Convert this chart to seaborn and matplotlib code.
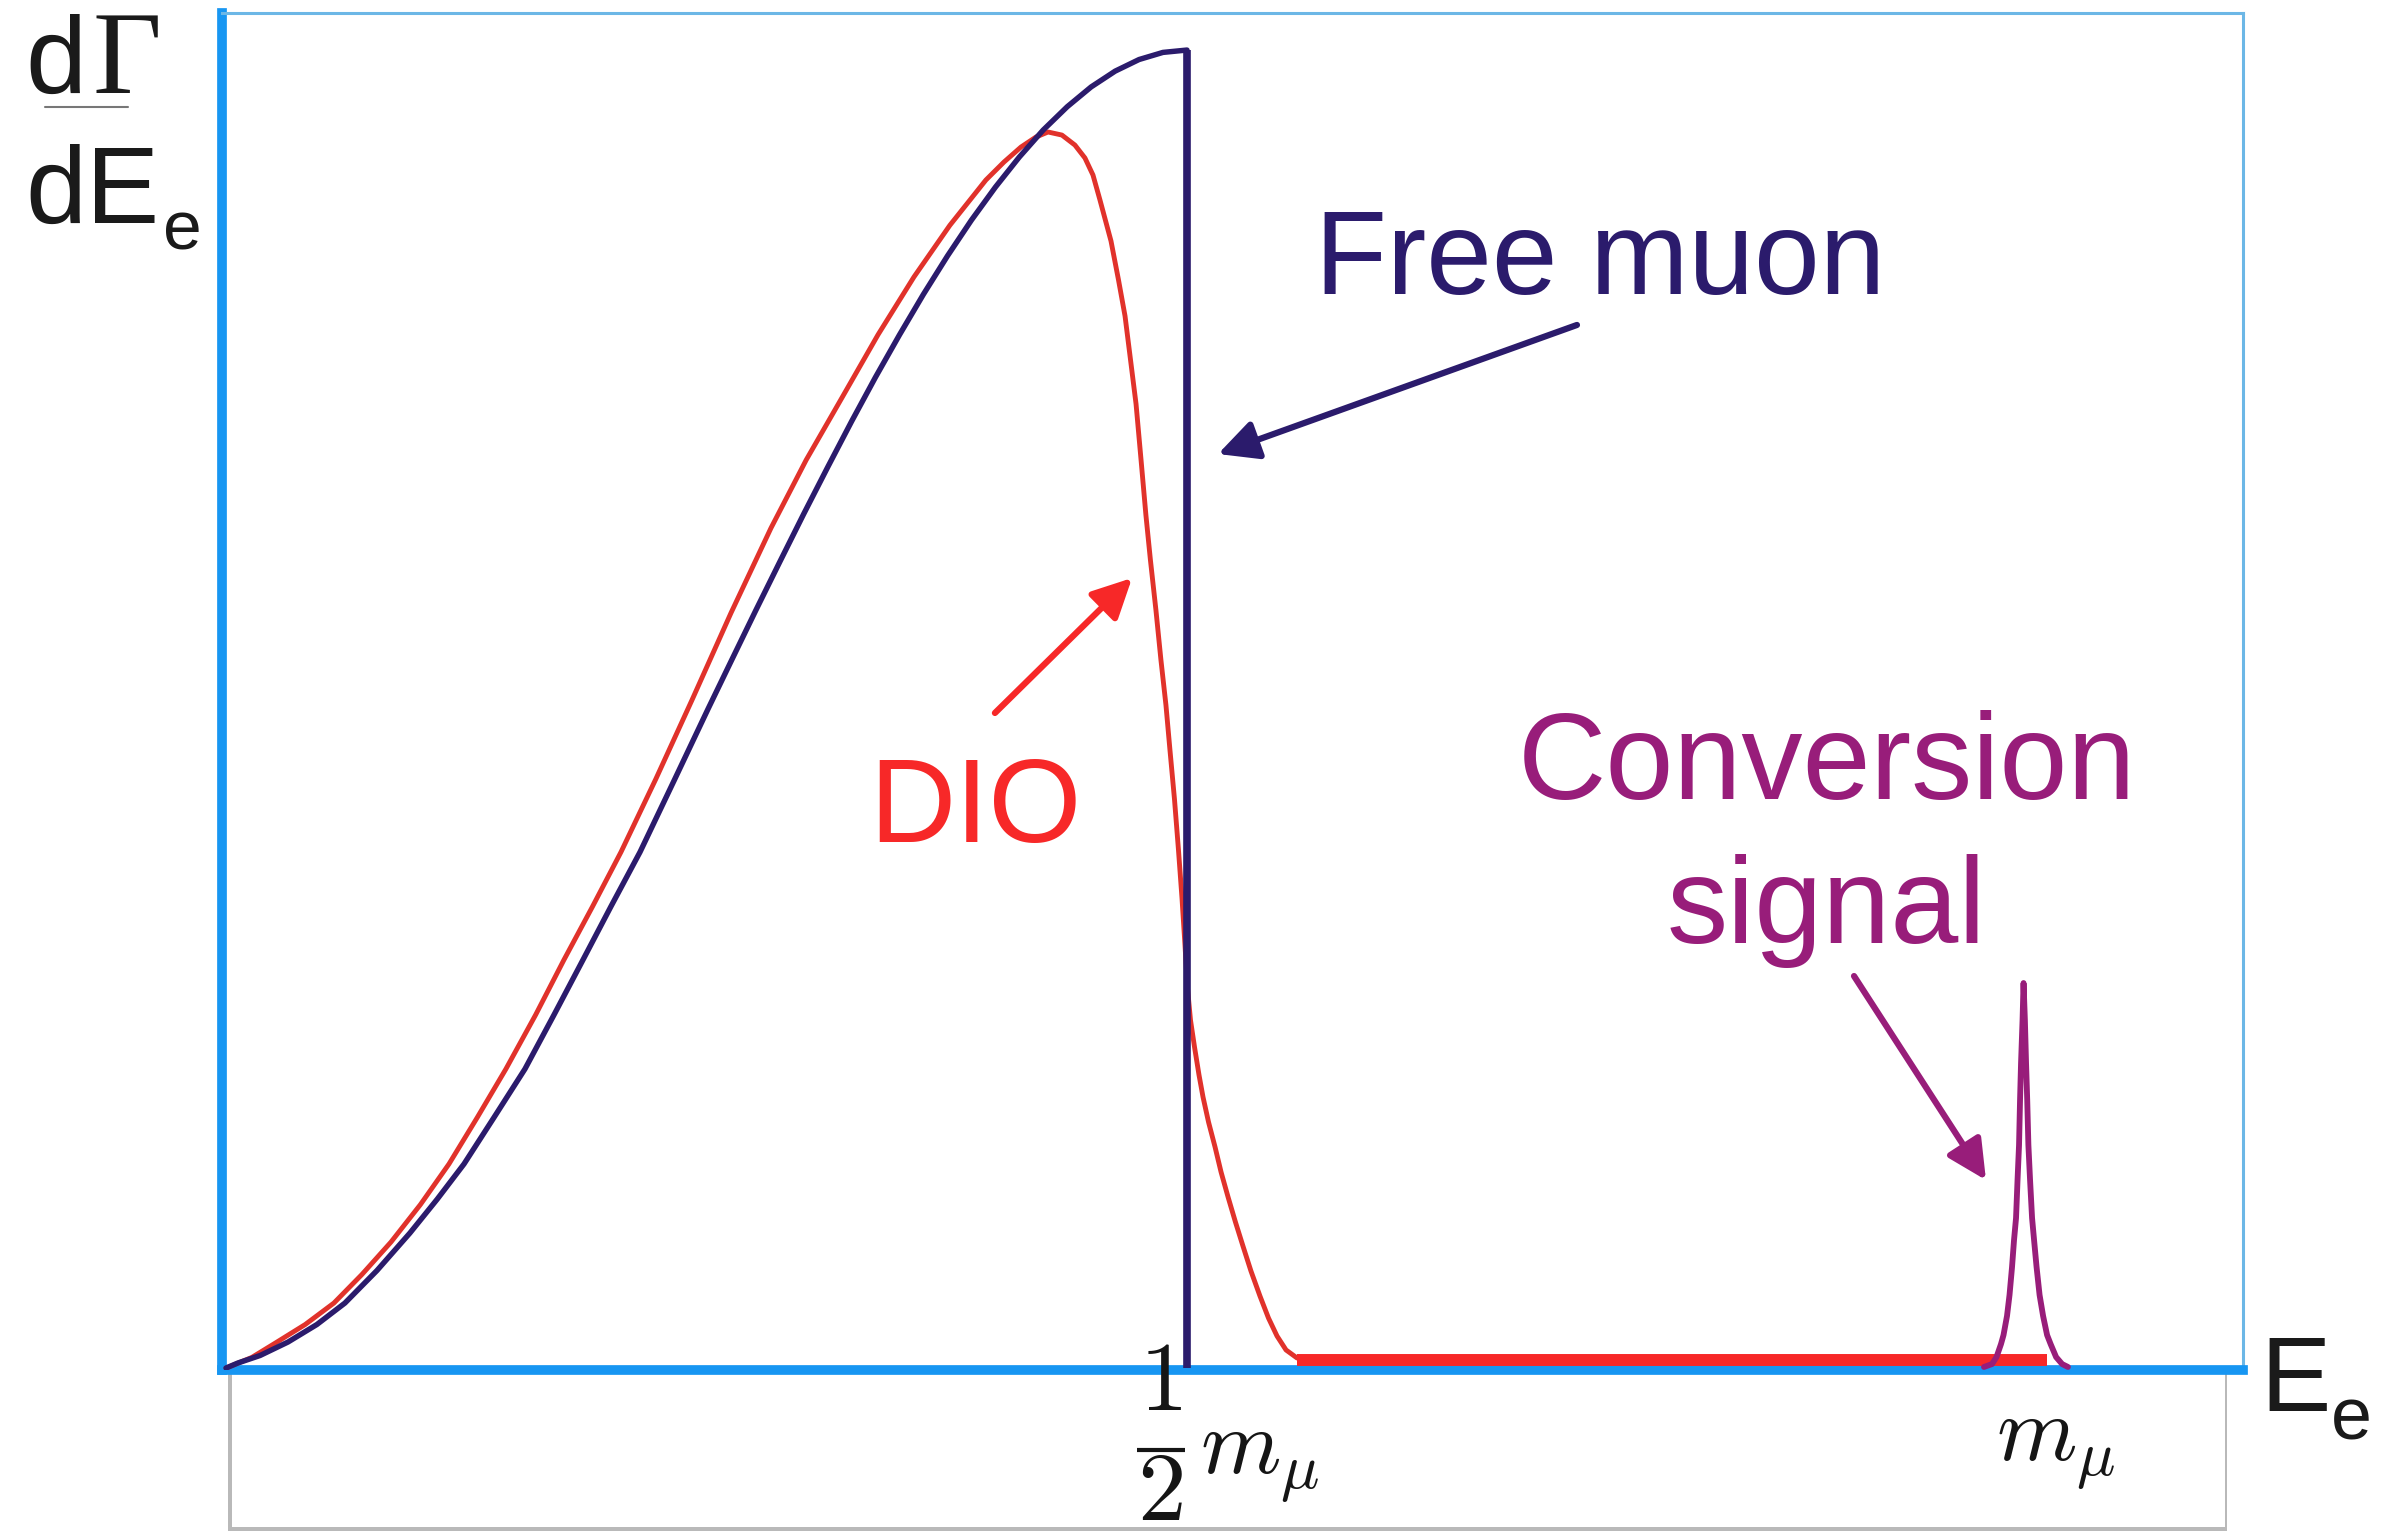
import matplotlib
matplotlib.use("Agg")
import matplotlib.pyplot as plt
from matplotlib.patches import Rectangle
from matplotlib.lines import Line2D
import pandas as pd
import seaborn as sns

# Electron energy in units of the muon mass, rate normalised to the free-muon endpoint
free_x = [-0.0754, -0.0683, -0.0550, -0.0383, -0.0210, -0.0042, 0.0150, 0.0347,
          0.0510, 0.0671, 0.0850, 0.1036, 0.1210, 0.1383, 0.1550, 0.1725,
          0.1930, 0.2132, 0.2275, 0.2418, 0.2562, 0.2705, 0.2849, 0.2992,
          0.3135, 0.3279, 0.3422, 0.3566, 0.3709, 0.3853, 0.3996, 0.4139,
          0.4283, 0.4426, 0.4570, 0.4713, 0.4856, 0.5000]
free_y = [0.0000, 0.0038, 0.0095, 0.0197, 0.0330, 0.0493, 0.0740, 0.1024,
          0.1280, 0.1548, 0.1900, 0.2269, 0.2680, 0.3096, 0.3500, 0.3915,
          0.4460, 0.5000, 0.5375, 0.5748, 0.6117, 0.6480, 0.6836, 0.7183,
          0.7518, 0.7840, 0.8147, 0.8438, 0.8709, 0.8960, 0.9188, 0.9393,
          0.9570, 0.9720, 0.9840, 0.9928, 0.9982, 1.0000]

# Sharp endpoint of the free decay
edge_x = [0.5, 0.5]
edge_y = [1.0, 0.0]

# Decay in orbit
dio_x = [-0.0754, -0.0725, -0.0600, -0.0449, -0.0280, -0.0108, 0.0060, 0.0234,
         0.0410, 0.0581, 0.0750, 0.0922, 0.1100, 0.1269, 0.1440, 0.1611,
         0.1820, 0.2036, 0.2270, 0.2509, 0.2720, 0.2940, 0.3150, 0.3365,
         0.3580, 0.3796, 0.3904, 0.4006, 0.4096, 0.4168, 0.4251, 0.4329,
         0.4389, 0.4437, 0.4479, 0.4545, 0.4590, 0.4629, 0.4662, 0.4695,
         0.4725, 0.4754, 0.4781, 0.4814, 0.4844, 0.4874, 0.4898, 0.4925,
         0.4949, 0.4970, 0.4988, 0.5003, 0.5021, 0.5045, 0.5072, 0.5096,
         0.5129, 0.5168, 0.5204, 0.5246, 0.5290, 0.5335, 0.5383, 0.5437,
         0.5488, 0.5539, 0.5593, 0.5659]
dio_y = [0.0000, 0.0015, 0.0080, 0.0197, 0.0330, 0.0493, 0.0710, 0.0956,
         0.1240, 0.1548, 0.1900, 0.2269, 0.2680, 0.3096, 0.3500, 0.3915,
         0.4470, 0.5068, 0.5730, 0.6373, 0.6890, 0.7375, 0.7840, 0.8278,
         0.8670, 0.9014, 0.9150, 0.9264, 0.9340, 0.9378, 0.9355, 0.9279,
         0.9181, 0.9052, 0.8862, 0.8551, 0.8255, 0.7982, 0.7648, 0.7314,
         0.6889, 0.6472, 0.6131, 0.5751, 0.5372, 0.5030, 0.4689, 0.4317,
         0.3930, 0.3566, 0.3209, 0.2883, 0.2640, 0.2436, 0.2223, 0.2056,
         0.1866, 0.1677, 0.1487, 0.1297, 0.1108, 0.0926, 0.0736, 0.0546,
         0.0379, 0.0243, 0.0137, 0.0076]

# DIO tail running out towards the muon mass
floor_x = [0.5659, 1.0150]
floor_y = [0.0061, 0.0061]

# Conversion electron peak
conv_x = [0.9772, 0.9820, 0.9847, 0.9874, 0.9889, 0.9910, 0.9925, 0.9940,
          0.9952, 0.9964, 0.9973, 0.9982, 0.9988, 0.9994, 1.0003, 1.0009,
          1.0017, 1.0024, 1.0031, 1.0038, 1.0048, 1.0060, 1.0072, 1.0087,
          1.0105, 1.0126, 1.0150, 1.0171, 1.0204, 1.0240, 1.0275]
conv_y = [0.0008, 0.0030, 0.0083, 0.0182, 0.0250, 0.0395, 0.0554, 0.0766,
          0.0971, 0.1138, 0.1426, 0.1692, 0.2033, 0.2314, 0.2640, 0.2921,
          0.2640, 0.2314, 0.2033, 0.1692, 0.1426, 0.1138, 0.0971, 0.0766,
          0.0554, 0.0395, 0.0250, 0.0182, 0.0083, 0.0030, 0.0008]

tick_pos = [0.5, 1.0]

NAVY = "#2B1B6C"
RED_LINE = "#E1322B"
RED = "#F72828"
PURPLE = "#981D7A"
BLUE = "#1796F2"
BLUE_LIGHT = "#6CB7E6"
INK = "#151515"

W, H = 2396, 1539

sns.set_style("white")
plt.rcParams["font.family"] = ["Liberation Sans", "DejaVu Sans"]
plt.rcParams["mathtext.fontset"] = "cm"

fig = plt.figure(figsize=(W / 100, H / 100), dpi=100)
fig.patch.set_facecolor("white")


def fx(px):
    return px / W


def fy(py):
    return 1 - py / H


ax = fig.add_axes([fx(222), fy(1370), fx(2242.5) - fx(222), fy(13) - fy(1370)])
ax.set_xlim(-0.0778, 1.1320)
ax.set_ylim(-0.0015, 1.0281)

# Curves
dio_df = pd.DataFrame({"E": dio_x, "rate": dio_y})
free_df = pd.DataFrame({"E": free_x, "rate": free_y})
conv_df = pd.DataFrame({"E": conv_x, "rate": conv_y})

sns.lineplot(data=dio_df, x="E", y="rate", ax=ax, color=RED_LINE, linewidth=3.5,
             estimator=None, sort=False, zorder=3)
ax.plot(floor_x, floor_y, color=RED, linewidth=8.6, solid_capstyle="butt", zorder=3)
sns.lineplot(data=conv_df, x="E", y="rate", ax=ax, color=PURPLE, linewidth=4.2,
             estimator=None, sort=False, zorder=3)
sns.lineplot(data=free_df, x="E", y="rate", ax=ax, color=NAVY, linewidth=3.9,
             estimator=None, sort=False, zorder=4)
ax.plot(edge_x, edge_y, color=NAVY, linewidth=5.5, solid_capstyle="butt", zorder=4)

# Frame
for side in ["left", "bottom"]:
    ax.spines[side].set_color(BLUE)
    ax.spines[side].set_linewidth(7.0)
for side in ["top", "right"]:
    ax.spines[side].set_color(BLUE_LIGHT)
    ax.spines[side].set_linewidth(2.2)
ax.set_xticks([])
ax.set_yticks([])
ax.set_xlabel("")
ax.set_ylabel("")

# Energy scale labels: one half of the muon mass, and the muon mass
half = tick_pos[0]
ax.text(half - 0.0156, -0.0319, r"$1$", fontsize=70, ha="center", va="baseline",
        math_fontfamily="cm", color=INK, clip_on=False, zorder=6)
ax.plot([half - 0.0299, half - 0.0012], [-0.0622, -0.0622], color=INK,
        linewidth=3.0, solid_capstyle="butt", clip_on=False, zorder=6)
ax.text(half - 0.0162, -0.1153, r"$2$", fontsize=70, ha="center", va="baseline",
        math_fontfamily="cm", color=INK, clip_on=False, zorder=6)
ax.text(half + 0.0078, -0.0797, r"$m_\mu$", fontsize=66, ha="left", va="baseline",
        math_fontfamily="cm", color=INK, clip_on=False, zorder=6)
ax.text(tick_pos[1] + 0.0204, -0.0698, r"$m_\mu$", fontsize=66, ha="center",
        va="baseline", math_fontfamily="cm", color=INK, clip_on=False, zorder=6)

# Panel under the energy axis
shadow = Rectangle((fx(228), fy(1531)), fx(2227) - fx(228), fy(1371) - fy(1531),
                   transform=fig.transFigure, facecolor="#b9b9b9", edgecolor="none",
                   zorder=-2)
panel = Rectangle((fx(232), fy(1527)), fx(2225) - fx(232), fy(1371) - fy(1527),
                  transform=fig.transFigure, facecolor="white", edgecolor="none",
                  zorder=-1)
fig.add_artist(shadow)
fig.add_artist(panel)

# Annotations
arrow_style = "-|>,head_length=0.8,head_width=0.4"
ax.text(0.5766, 0.8149, "Free muon", fontsize=85, color=NAVY, ha="left", va="baseline")
ax.annotate("", xy=(0.5186, 0.6935), xytext=(0.7335, 0.7914),
            arrowprops=dict(arrowstyle=arrow_style, color=NAVY, lw=4.5,
                            mutation_scale=30, shrinkA=0, shrinkB=0))

ax.text(0.3096, 0.3991, "DIO", fontsize=86, color=RED, ha="left", va="baseline")
ax.annotate("", xy=(0.4671, 0.5994), xytext=(0.3850, 0.4970),
            arrowprops=dict(arrowstyle=arrow_style, color=RED, lw=4.5,
                            mutation_scale=30, shrinkA=0, shrinkB=0))

ax.text(0.8832, 0.4317, "Conversion", fontsize=88, color=PURPLE, ha="center", va="baseline")
ax.text(0.8826, 0.3225, "signal", fontsize=88, color=PURPLE, ha="center", va="baseline")
ax.annotate("", xy=(0.9784, 0.1426), xytext=(0.8994, 0.2974),
            arrowprops=dict(arrowstyle=arrow_style, color=PURPLE, lw=4.5,
                            mutation_scale=30, shrinkA=0, shrinkB=0))

# Axis titles
fig.text(fx(25), fy(93), "d", fontsize=79, color="#1a1a1a", ha="left", va="baseline")
fig.text(fx(93), fy(93), "Γ", fontsize=86, color="#1a1a1a", ha="left", va="baseline",
         family=["Liberation Serif", "DejaVu Serif"])
fig.add_artist(Line2D([fx(45), fx(128)], [fy(107), fy(107)], transform=fig.transFigure,
                      color="#777777", linewidth=1.5))
fig.text(fx(25), fy(223), "dE", fontsize=79, color="#1a1a1a", ha="left", va="baseline")
fig.text(fx(163), fy(250), "e", fontsize=50, color="#1a1a1a", ha="left", va="baseline")

fig.text(fx(2260), fy(1411), "E", fontsize=76, color="#1a1a1a", ha="left", va="baseline")
fig.text(fx(2331), fy(1440), "e", fontsize=53, color="#1a1a1a", ha="left", va="baseline")

fig.savefig("out.png", dpi=100, facecolor="white")
